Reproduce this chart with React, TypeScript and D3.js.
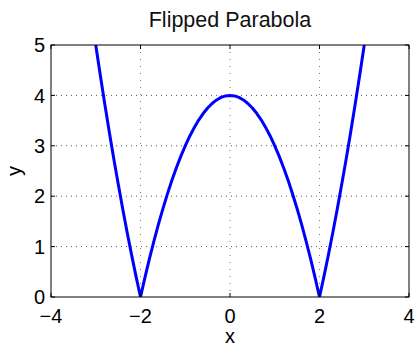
import { useEffect, useRef } from "react";
import * as d3 from "d3";

const xs = [-3, -2.9, -2.8, -2.7, -2.6, -2.5, -2.4, -2.3, -2.2, -2.1, -2,
  -1.9, -1.8, -1.7, -1.6, -1.5, -1.4, -1.3, -1.2, -1.1, -1, -0.9, -0.8, -0.7, -0.6, -0.5,
  -0.4, -0.3, -0.2, -0.1, 0, 0.1, 0.2, 0.3, 0.4, 0.5, 0.6, 0.7, 0.8, 0.9, 1,
  1.1, 1.2, 1.3, 1.4, 1.5, 1.6, 1.7, 1.8, 1.9, 2, 2.1, 2.2, 2.3, 2.4, 2.5,
  2.6, 2.7, 2.8, 2.9, 3];
const ys = [5, 4.41, 3.84, 3.29, 2.76, 2.25, 1.76, 1.29, 0.84, 0.41, 0,
  0.39, 0.76, 1.11, 1.44, 1.75, 2.04, 2.31, 2.56, 2.79, 3, 3.19, 3.36, 3.51, 3.64, 3.75,
  3.84, 3.91, 3.96, 3.99, 4, 3.99, 3.96, 3.91, 3.84, 3.75, 3.64, 3.51, 3.36, 3.19, 3,
  2.79, 2.56, 2.31, 2.04, 1.75, 1.44, 1.11, 0.76, 0.39, 0, 0.41, 0.84, 1.29, 1.76, 2.25,
  2.76, 3.29, 3.84, 4.41, 5];
const xTicks = [-4, -2, 0, 2, 4];
const yTicks = [0, 1, 2, 3, 4, 5];
const title = "Flipped Parabola";

export default function App() {
  const ref = useRef<SVGSVGElement | null>(null);

  useEffect(() => {
    const svg = d3.select(ref.current);
    svg.selectAll("*").remove();
    const W = 415, H = 348;
    const m = { top: 45, right: 6, bottom: 51, left: 51 };
    const w = W - m.left - m.right;
    const h = H - m.top - m.bottom;
    const font = "'Liberation Sans', Arial, sans-serif";

    const x = d3.scaleLinear().domain([-4, 4]).range([0, w]);
    const y = d3.scaleLinear().domain([0, 5]).range([h, 0]);

    svg.append("rect").attr("width", W).attr("height", H).attr("fill", "#fff");
    const g = svg.append("g").attr("transform", `translate(${m.left},${m.top})`);

    // dotted grid
    g.selectAll(".gx")
      .data(xTicks.slice(1, -1))
      .enter()
      .append("line")
      .attr("x1", (d) => x(d)).attr("x2", (d) => x(d))
      .attr("y1", 0).attr("y2", h)
      .attr("stroke", "#777").attr("stroke-width", 1)
      .attr("stroke-dasharray", "1 6");
    g.selectAll(".gy")
      .data(yTicks.slice(1, -1))
      .enter()
      .append("line")
      .attr("y1", (d) => y(d)).attr("y2", (d) => y(d))
      .attr("x1", 0).attr("x2", w)
      .attr("stroke", "#555").attr("stroke-width", 1)
      .attr("stroke-dasharray", "1 4");

    const clip = svg.append("defs").append("clipPath").attr("id", "plotclip");
    clip.append("rect").attr("width", w).attr("height", h);

    const pts = xs.map((v, i) => [v, ys[i]] as [number, number]);
    g.append("path")
      .attr("clip-path", "url(#plotclip)")
      .attr("d", d3.line<[number, number]>().x((d) => x(d[0])).y((d) => y(d[1]))(pts) ?? "")
      .attr("fill", "none")
      .attr("stroke", "#0000ff")
      .attr("stroke-width", 3)
      .attr("stroke-linejoin", "round");

    // box
    g.append("rect").attr("width", w).attr("height", h)
      .attr("fill", "none").attr("stroke", "#000").attr("stroke-width", 1);

    // inward ticks
    const tl = 4;
    xTicks.forEach((t) => {
      g.append("line").attr("x1", x(t)).attr("x2", x(t)).attr("y1", h).attr("y2", h - tl).attr("stroke", "#000");
      g.append("line").attr("x1", x(t)).attr("x2", x(t)).attr("y1", 0).attr("y2", tl).attr("stroke", "#000");
      g.append("text").attr("x", x(t)).attr("y", h + 26)
        .attr("text-anchor", "middle").attr("font-family", font).attr("font-size", 20)
        .text(t < 0 ? `\u2212${-t}` : `${t}`);
    });
    yTicks.forEach((t) => {
      g.append("line").attr("x1", 0).attr("x2", tl).attr("y1", y(t)).attr("y2", y(t)).attr("stroke", "#000");
      g.append("line").attr("x1", w).attr("x2", w - tl).attr("y1", y(t)).attr("y2", y(t)).attr("stroke", "#000");
      g.append("text").attr("x", -6).attr("y", y(t)).attr("dy", "0.36em")
        .attr("text-anchor", "end").attr("font-family", font).attr("font-size", 20)
        .text(`${t}`);
    });

    svg.append("text").attr("x", m.left + w / 2).attr("y", 27)
      .attr("text-anchor", "middle").attr("font-family", font).attr("font-size", 21.5)
      .attr("fill", "#111").text(title);
    svg.append("text").attr("x", m.left + w / 2).attr("y", 343)
      .attr("text-anchor", "middle").attr("font-family", font).attr("font-size", 20)
      .text("x");
    svg.append("text")
      .attr("transform", `translate(21,${m.top + h / 2}) rotate(-90)`)
      .attr("text-anchor", "middle").attr("font-family", font).attr("font-size", 20)
      .text("y");
  }, []);

  return (
    <svg
      ref={ref}
      width={415}
      height={348}
      style={{ position: "absolute", left: 0, top: 0, display: "block" }}
    />
  );
}
